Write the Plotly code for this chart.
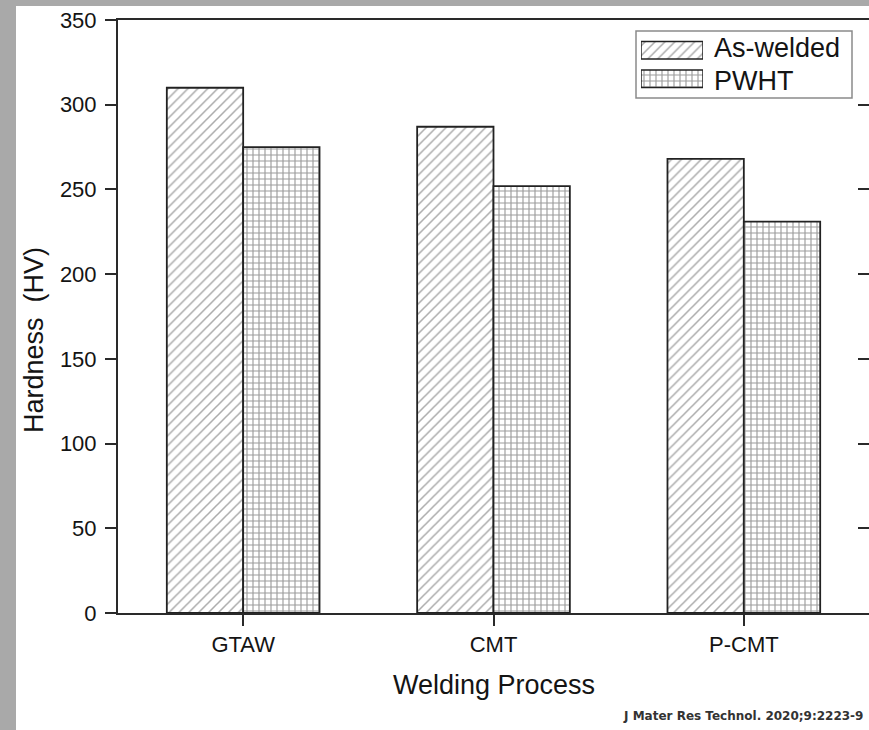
import plotly.graph_objects as go

# Weld-metal hardness for each welding process, before and after PWHT
processes = ["GTAW", "CMT", "P-CMT"]
as_welded = [310, 287, 268]
pwht = [275, 252, 231]
series_names = ["As-welded", "PWHT"]
y_ticks = [0, 50, 100, 150, 200, 250, 300, 350]

W, H = 869, 730
L, R, T, B = 118, 0, 20, 117
PW, PH = W - L - R, H - T - B


def px_x(px):
    return (px - L) / PW


def px_y(py):
    return (H - B - py) / PH


FONT = "Liberation Sans, Arial, sans-serif"
INK = "#141414"
AXIS = "#2a2a2a"

hatch_diag = dict(shape="/", size=7, solidity=0.22, fgcolor="#585858", bgcolor="white")
hatch_grid = dict(shape="+", size=6, solidity=0.34, fgcolor="#383838", bgcolor="white")
styles = [hatch_diag, hatch_grid]

fig = go.Figure()
for name, vals, pat in zip(series_names, [as_welded, pwht], styles):
    fig.add_trace(go.Bar(
        x=processes, y=vals, name=name,
        marker=dict(color="white", pattern=pat, line=dict(color="#222222", width=1.8)),
        showlegend=False,
    ))

# empty trace so the right-hand tick axis gets rendered
fig.add_trace(go.Scatter(x=[], y=[], yaxis="y2", showlegend=False, hoverinfo="skip"))

# legend swatches drawn as patterned bars in a small inset axis
fig.add_trace(go.Bar(
    x=[1, 1], y=series_names[::-1], orientation="h",
    marker=dict(color="white", pattern=dict(shape=["+", "/"], size=[6, 7],
                                            solidity=[0.34, 0.22],
                                            fgcolor=["#383838", "#585858"], bgcolor="white"),
                line=dict(color="#222222", width=1.5)),
    xaxis="x3", yaxis="y3", showlegend=False, hoverinfo="skip",
))

fig.update_layout(
    width=W, height=H,
    margin=dict(l=L, r=R, t=T, b=B, pad=0),
    paper_bgcolor="#a9a9a9",
    plot_bgcolor="white",
    barmode="group", bargap=0.39, bargroupgap=0,
    font=dict(family=FONT, color=INK),
    xaxis=dict(
        range=[-0.5, 2.5], showline=True, linecolor=AXIS, linewidth=2, mirror=True,
        ticks="outside", ticklen=11, tickwidth=2, tickcolor=AXIS,
        tickfont=dict(size=22, color=INK), showgrid=False, zeroline=False,
    ),
    yaxis=dict(
        range=[0, 350], tickvals=y_ticks, showline=True, linecolor=AXIS, linewidth=2,
        ticks="outside", ticklen=11, tickwidth=2, tickcolor=AXIS,
        tickfont=dict(size=22, color=INK), showgrid=False, zeroline=False,
        ticklabelstandoff=4,
    ),
    yaxis2=dict(
        range=[0, 350], tickvals=y_ticks, overlaying="y", side="right", anchor="x",
        ticks="inside", ticklen=11, tickwidth=2, tickcolor=AXIS,
        showticklabels=False, showline=False, showgrid=False, zeroline=False,
    ),
    xaxis3=dict(domain=[px_x(641), px_x(703)], anchor="y3", range=[0, 1],
                visible=False, fixedrange=True),
    yaxis3=dict(domain=[px_y(93), px_y(36)], anchor="x3", visible=False, fixedrange=True),
    shapes=[
        dict(type="rect", xref="paper", yref="paper", layer="below",
             x0=px_x(16), x1=px_x(W + 20), y0=px_y(H + 20), y1=px_y(6),
             fillcolor="white", line=dict(width=0)),
        dict(type="rect", xref="paper", yref="paper",
             x0=px_x(636), x1=px_x(852), y0=px_y(98), y1=px_y(31),
             fillcolor="rgba(0,0,0,0)", line=dict(color="#8a8a8a", width=1.5)),
    ],
    annotations=[
        dict(text="As-welded", x=px_x(712), y=px_y(48), xref="paper", yref="paper",
             xanchor="left", yanchor="middle", showarrow=False,
             font=dict(size=27, color=INK)),
        dict(text="PWHT", x=px_x(712), y=px_y(81), xref="paper", yref="paper",
             xanchor="left", yanchor="middle", showarrow=False,
             font=dict(size=27, color=INK)),
        dict(text="Hardness  (HV)", x=px_x(34), y=px_y(340), xref="paper", yref="paper",
             xanchor="center", yanchor="middle", textangle=-90, showarrow=False,
             font=dict(size=27, color=INK)),
        dict(text="Welding Process", x=px_x(494), y=px_y(685), xref="paper", yref="paper",
             xanchor="center", yanchor="middle", showarrow=False,
             font=dict(size=27, color=INK)),
        dict(text="<b>J Mater Res Technol. 2020;9:2223-9</b>", x=px_x(865), y=px_y(716),
             xref="paper", yref="paper", xanchor="right", yanchor="middle",
             showarrow=False, font=dict(size=12, family="DejaVu Sans", color="#333333")),
    ],
)

fig.write_html("out.html")
